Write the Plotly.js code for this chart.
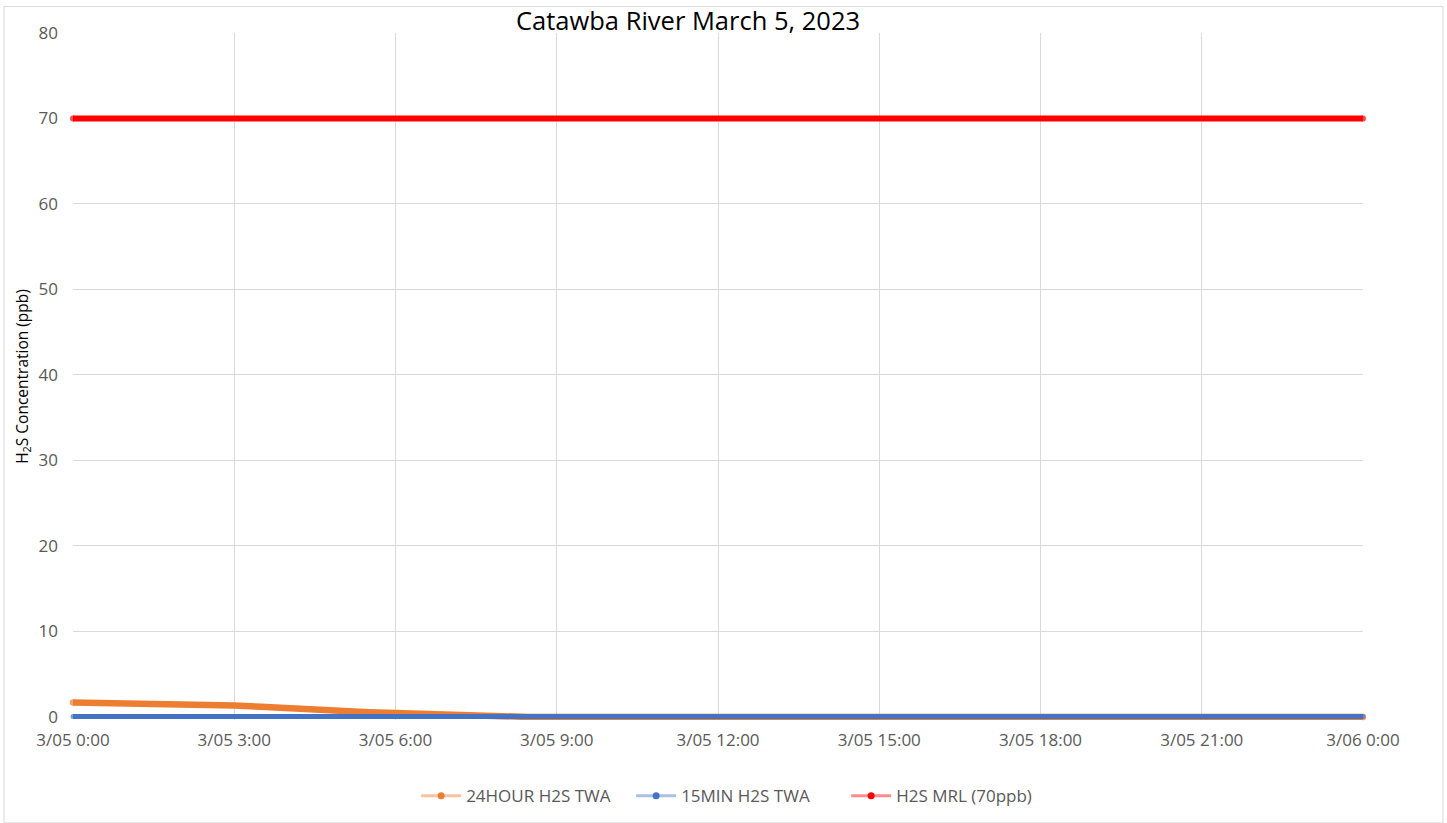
<!DOCTYPE html>
<html>
<head>
<meta charset="utf-8">
<script src="https://cdn.plot.ly/plotly-3.0.1.min.js"></script>
<style>html,body{margin:0;padding:0;background:#fff;}#chart{width:1447px;height:823px;}</style>
</head>
<body>
<div id="chart"></div>
<script>
// Times (30-minute steps through the day)
const times = [
  '2023-03-05 00:00','2023-03-05 00:30','2023-03-05 01:00','2023-03-05 01:30',
  '2023-03-05 02:00','2023-03-05 02:30','2023-03-05 03:00','2023-03-05 03:30',
  '2023-03-05 04:00','2023-03-05 04:30','2023-03-05 05:00','2023-03-05 05:30',
  '2023-03-05 06:00','2023-03-05 06:30','2023-03-05 07:00','2023-03-05 07:30',
  '2023-03-05 08:00','2023-03-05 08:30','2023-03-05 09:00','2023-03-05 09:30',
  '2023-03-05 10:00','2023-03-05 10:30','2023-03-05 11:00','2023-03-05 11:30',
  '2023-03-05 12:00','2023-03-05 12:30','2023-03-05 13:00','2023-03-05 13:30',
  '2023-03-05 14:00','2023-03-05 14:30','2023-03-05 15:00','2023-03-05 15:30',
  '2023-03-05 16:00','2023-03-05 16:30','2023-03-05 17:00','2023-03-05 17:30',
  '2023-03-05 18:00','2023-03-05 18:30','2023-03-05 19:00','2023-03-05 19:30',
  '2023-03-05 20:00','2023-03-05 20:30','2023-03-05 21:00','2023-03-05 21:30',
  '2023-03-05 22:00','2023-03-05 22:30','2023-03-05 23:00','2023-03-05 23:30',
  '2023-03-06 00:00'
];
// 24HOUR H2S TWA (ppb)
const twa24 = [
  1.65, 1.62, 1.55, 1.5, 1.45, 1.4, 1.3, 1.15,
  0.95, 0.8, 0.62, 0.52, 0.42, 0.3, 0.2, 0.1,
  -0.05, -0.05, -0.05, -0.05, -0.05, -0.05, -0.05, -0.05,
  -0.05, -0.05, -0.05, -0.05, -0.05, -0.05, -0.05, -0.05,
  -0.05, -0.05, 0.05, 0.05, 0.05, 0.05, 0.05, 0.05,
  0.05, 0.05, 0.05, 0.05, 0.05, 0.05, 0.05, 0.0,
  -0.05
];
// 15MIN H2S TWA (ppb)
const twa15 = [
  0, 0, 0, 0, 0, 0, 0, 0,
  0, 0, 0, 0, 0, 0, 0, 0,
  0, 0, 0, 0, 0, 0, 0, 0,
  0, 0, 0, 0, 0, 0, 0, 0,
  0, 0, 0, 0, 0, 0, 0, 0,
  0, 0, 0, 0, 0, 0, 0, 0,
  0
];
// H2S MRL (ppb)
const mrl = [
  70, 70, 70, 70, 70, 70, 70, 70,
  70, 70, 70, 70, 70, 70, 70, 70,
  70, 70, 70, 70, 70, 70, 70, 70,
  70, 70, 70, 70, 70, 70, 70, 70,
  70, 70, 70, 70, 70, 70, 70, 70,
  70, 70, 70, 70, 70, 70, 70, 70,
  70
];
const seriesNames = ['24HOUR H2S TWA', '15MIN H2S TWA', 'H2S MRL (70ppb)'];
const yTicks = [0, 10, 20, 30, 40, 50, 60, 70, 80];

const colors = ['#ed7d31', '#4472c4', '#ff0000'];
const legendLine = ['rgba(237,125,49,0.45)', 'rgba(68,114,196,0.45)', 'rgba(255,0,0,0.45)'];
const endSize = (n, s) => times.map((_, i) => (i === 0 || i === n - 1) ? s : 0);

const traces = [
  {x: times, y: twa24, mode: 'lines+markers', line: {color: colors[0], width: 6.5},
   marker: {color: colors[0], size: endSize(times.length, 6.5), line: {width: 0}}, cliponaxis: false, showlegend: false, name: seriesNames[0]},
  {x: times, y: twa15, mode: 'lines+markers', line: {color: colors[1], width: 5},
   marker: {color: colors[1], size: endSize(times.length, 5), line: {width: 0}}, cliponaxis: false, showlegend: false, name: seriesNames[1]},
  {x: times, y: mrl, mode: 'lines+markers', line: {color: colors[2], width: 6},
   marker: {color: colors[2], size: endSize(times.length, 6), line: {width: 0}}, cliponaxis: false, showlegend: false, name: seriesNames[2]}
];
seriesNames.forEach((nm, i) => {
  traces.push({x: [null], y: [null], mode: 'lines+markers', name: nm,
    line: {color: legendLine[i], width: 3}, marker: {color: colors[i], size: 7, line: {width: 0}}});
});

const layout = {
  width: 1447, height: 823,
  margin: {l: 73, r: 84, t: 33, b: 102.6, autoexpand: false},
  paper_bgcolor: '#ffffff', plot_bgcolor: '#ffffff',
  font: {family: 'Open Sans, Liberation Sans, sans-serif', size: 17, color: '#595959'},
  title: {text: 'Catawba River March 5, 2023', font: {size: 25.5, color: '#000000'},
          xref: 'container', x: 0.4755, xanchor: 'center', yref: 'container', y: 0.975, yanchor: 'middle'},
  xaxis: {type: 'date', range: ['2023-03-05 00:00', '2023-03-06 00:00'],
          dtick: 10800000, tick0: '2023-03-05 00:00', tickformat: '%-m/%d %-H:%M',
          showgrid: true, gridcolor: '#d9d9d9', gridwidth: 1, zeroline: false, showline: false,
          ticks: '', ticklabelstandoff: 8, tickfont: {size: 17, color: '#595959'}, automargin: false},
  yaxis: {range: [-0.4, 80], tickvals: yTicks, ticktext: yTicks.map(String),
          showgrid: true, gridcolor: '#d9d9d9', gridwidth: 1, zeroline: false, showline: false,
          ticks: '', ticklabelstandoff: 14, tickfont: {size: 17, color: '#595959'}, automargin: false,
          title: {text: 'H<sub>2</sub>S Concentration (ppb)', font: {size: 15.5, color: '#000000'}, standoff: 6}},
  legend: {orientation: 'h', x: 0.516, xanchor: 'center', y: -0.111, yanchor: 'middle',
           font: {size: 17, color: '#595959'}, itemwidth: 40, tracegroupgap: 0,
           entrywidth: 160, entrywidthmode: 'pixels'},
  shapes: [{type: 'rect', xref: 'paper', yref: 'paper', x0: -0.0535, x1: 1.062, y0: -0.1498, y1: 1.0387,
            line: {color: '#d9d9d9', width: 1}, fillcolor: 'rgba(0,0,0,0)', layer: 'below'}]
};

Plotly.newPlot('chart', traces, layout, {displayModeBar: false, staticPlot: true});
</script>
</body>
</html>
